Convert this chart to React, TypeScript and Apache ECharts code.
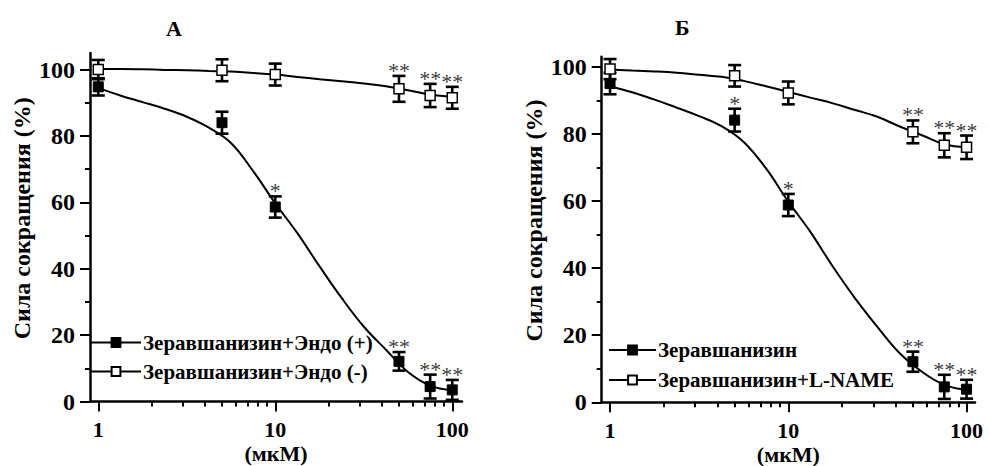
import React, { useEffect, useRef } from "react";
import * as echarts from "echarts";

// Concentrations (мкМ)
const conc = [1, 5, 10, 50, 75, 100];
const fitConc = [1, 1.33, 1.78, 2.37, 3.16, 4.22, 5.62, 7.5, 10, 13.3, 17.8, 23.7, 31.6, 42.2, 56.2, 75, 100];

// Panel А
const aPlusName = "Зеравшанизин+Эндо (+)";
const aPlusMean = [94.8, 84.0, 58.6, 12.1, 4.5, 3.5];
const aPlusErr = [2.6, 3.3, 3.2, 2.8, 3.6, 3.0];
const aPlusFit = [94.5, 92.2, 90.2, 88.2, 85.8, 82.5, 77.9, 69.4, 59.7, 50.8, 40.7, 31.2, 22.6, 15.6, 8.9, 4.8, 3.4];
const aPlusStars: [number, string][] = [[10, "*"], [50, "**"], [75, "**"], [100, "**"]];

const aMinusName = "Зеравшанизин+Эндо (-)";
const aMinusMean = [100.0, 99.8, 98.5, 94.2, 92.2, 91.5];
const aMinusErr = [2.9, 3.3, 3.3, 3.9, 3.5, 3.3];
const aMinusFit = [100.2, 100.2, 100.1, 99.9, 99.8, 99.6, 99.4, 99.0, 98.5, 97.8, 97.1, 96.5, 95.8, 95.0, 93.8, 92.5, 91.8];
const aMinusStars: [number, string][] = [[50, "**"], [75, "**"], [100, "**"]];

// Panel Б
const bPlusName = "Зеравшанизин";
const bPlusMean = [95.0, 84.1, 58.8, 12.1, 4.6, 3.9];
const bPlusErr = [3.2, 3.4, 3.3, 3.0, 3.6, 2.8];
const bPlusFit = [94.2, 92.4, 90.2, 87.8, 85.3, 82.3, 77.6, 69.7, 59.8, 50.8, 40.4, 31.0, 22.5, 14.6, 9.1, 5.2, 3.7];
const bPlusStars: [number, string][] = [[5, "*"], [10, "*"], [50, "**"], [75, "**"], [100, "**"]];

const bMinusName = "Зеравшанизин+L-NAME";
const bMinusMean = [99.3, 97.3, 92.2, 80.6, 76.6, 76.0];
const bMinusErr = [3.0, 3.2, 3.4, 3.4, 3.6, 3.5];
const bMinusFit = [99.2, 98.9, 98.6, 98.2, 97.6, 97.0, 95.8, 94.2, 92.5, 90.8, 89.1, 87.1, 85.1, 82.2, 79.6, 76.9, 76.0];
const bMinusStars: [number, string][] = [[50, "**"], [75, "**"], [100, "**"]];

// Axes
const xMajorTicks = [1, 10, 100];
const xMinorTicks = [2, 3, 4, 5, 6, 7, 8, 9, 20, 30, 40, 50, 60, 70, 80, 90];
const yMajorTicks = [0, 20, 40, 60, 80, 100];
const yMinorTicks = [10, 30, 50, 70, 90];
const xAxisName = "(мкМ)";
const yAxisName = "Сила сокращения (%)";

const FONT = "'Liberation Serif', 'Times New Roman', serif";
const BLACK = "#000";

type SeriesDef = {
  name: string;
  mean: number[];
  err: number[];
  fit: number[];
  filled: boolean;
  stars: [number, string][];
};

type PanelDef = {
  title: string;
  titlePos: { left: number; top: number };
  grid: { left: number; top: number; width: number; height: number };
  xMin: number;
  xMax: number;
  yMax: number;
  legend: { left: number; top: number; itemWidth: number; itemGap: number };
  defs: SeriesDef[];
};

const panels: PanelDef[] = [
  {
    title: "А",
    titlePos: { left: 166, top: 17 },
    grid: { left: 90, top: 53, width: 372, height: 348.5 },
    xMin: 0.898,
    xMax: 113.5,
    yMax: 105,
    legend: { left: 90, top: 332, itemWidth: 50, itemGap: 8 },
    defs: [
      { name: aPlusName, mean: aPlusMean, err: aPlusErr, fit: aPlusFit, filled: true, stars: aPlusStars },
      { name: aMinusName, mean: aMinusMean, err: aMinusErr, fit: aMinusFit, filled: false, stars: aMinusStars },
    ],
  },
  {
    title: "Б",
    titlePos: { left: 675, top: 16 },
    grid: { left: 601.7, top: 56.7, width: 373.3, height: 345.6 },
    xMin: 0.898,
    xMax: 111.5,
    yMax: 103,
    legend: { left: 608, top: 339.5, itemWidth: 47, itemGap: 9 },
    defs: [
      { name: bPlusName, mean: bPlusMean, err: bPlusErr, fit: bPlusFit, filled: true, stars: bPlusStars },
      { name: bMinusName, mean: bMinusMean, err: bMinusErr, fit: bMinusFit, filled: false, stars: bMinusStars },
    ],
  },
];

function buildOption() {
  const grids: any[] = [];
  const xAxes: any[] = [];
  const yAxes: any[] = [];
  const series: any[] = [];
  const legends: any[] = [];
  const titles: any[] = [];

  panels.forEach((p, pi) => {
    grids.push({ ...p.grid, containLabel: false, outerBoundsMode: "none" });
    // major x
    xAxes.push({
      type: "log",
      logBase: 10,
      gridIndex: pi,
      min: p.xMin,
      max: p.xMax,
      position: "bottom",
      axisLine: { show: true, onZero: false, lineStyle: { color: BLACK, width: 2.5 } },
      axisTick: { show: true, inside: false, length: 10, customValues: xMajorTicks, lineStyle: { color: BLACK, width: 2 } },
      axisLabel: {
        show: true,
        customValues: xMajorTicks,
        margin: 17,
        fontFamily: FONT,
        fontSize: 22,
        fontWeight: "bold",
        color: BLACK,
      },
      splitLine: { show: false },
      minorTick: { show: false },
      name: xAxisName,
      nameLocation: "middle",
      nameGap: 41,
      nameMoveOverlap: false,
      nameTextStyle: { fontFamily: FONT, fontSize: 22, fontWeight: "bold", color: BLACK },
    });
    // minor x
    xAxes.push({
      type: "log",
      logBase: 10,
      gridIndex: pi,
      min: p.xMin,
      max: p.xMax,
      position: "bottom",
      axisLine: { show: false, onZero: false },
      axisTick: { show: true, inside: false, length: 5, customValues: xMinorTicks, lineStyle: { color: BLACK, width: 2 } },
      axisLabel: { show: false },
      splitLine: { show: false },
    });
    // major y
    yAxes.push({
      type: "value",
      gridIndex: pi,
      min: 0,
      max: p.yMax,
      position: "left",
      axisLine: { show: true, onZero: false, lineStyle: { color: BLACK, width: 2.5 } },
      axisTick: { show: true, inside: false, length: 10, customValues: yMajorTicks, lineStyle: { color: BLACK, width: 2 } },
      axisLabel: {
        show: true,
        customValues: yMajorTicks,
        margin: 15,
        fontFamily: FONT,
        fontSize: 24,
        fontWeight: "bold",
        color: BLACK,
      },
      splitLine: { show: false },
      name: yAxisName,
      nameLocation: "middle",
      nameGap: 56,
      nameMoveOverlap: false,
      nameTextStyle: { fontFamily: FONT, fontSize: 24, fontWeight: "bold", color: BLACK, padding: [0, 0, 0, 18] },
    });
    // minor y
    yAxes.push({
      type: "value",
      gridIndex: pi,
      min: 0,
      max: p.yMax,
      position: "left",
      axisLine: { show: false, onZero: false },
      axisTick: { show: true, inside: false, length: 5, customValues: yMinorTicks, lineStyle: { color: BLACK, width: 2 } },
      axisLabel: { show: false },
      splitLine: { show: false },
    });

    const xi = pi * 2;
    const yi = pi * 2;

    p.defs.forEach((d) => {
      // fitted curve
      series.push({
        type: "line",
        xAxisIndex: xi,
        yAxisIndex: yi,
        data: fitConc.map((c, i) => [c, d.fit[i]]),
        smooth: 0.4,
        showSymbol: false,
        symbol: "none",
        lineStyle: { color: BLACK, width: 2 },
        z: 2,
        silent: true,
      });
      // error bars
      series.push({
        type: "custom",
        xAxisIndex: xi,
        yAxisIndex: yi,
        data: conc.map((c, i) => [c, d.mean[i], d.err[i]]),
        encode: { x: 0, y: 1 },
        z: 3,
        renderItem: (params: any, api: any) => {
          const x = api.value(0);
          const m = api.value(1);
          const e = api.value(2);
          const top = api.coord([x, m + e]);
          const bot = api.coord([x, Math.max(0, m - e)]);
          const hw = 6.5;
          const style = { stroke: BLACK, lineWidth: 2.6 };
          return {
            type: "group",
            children: [
              { type: "line", shape: { x1: top[0], y1: top[1], x2: bot[0], y2: bot[1] }, style },
              { type: "line", shape: { x1: top[0] - hw, y1: top[1], x2: top[0] + hw, y2: top[1] }, style },
              { type: "line", shape: { x1: bot[0] - hw, y1: bot[1], x2: bot[0] + hw, y2: bot[1] }, style },
            ],
          };
        },
      });
      // data points
      series.push({
        name: d.name,
        type: "line",
        xAxisIndex: xi,
        yAxisIndex: yi,
        data: conc.map((c, i) => [c, d.mean[i]]),
        symbol: "rect",
        symbolSize: 10,
        showSymbol: true,
        lineStyle: { opacity: 0, width: 0 },
        itemStyle: d.filled
          ? { color: BLACK, borderColor: BLACK, borderWidth: 1 }
          : { color: "#fff", borderColor: BLACK, borderWidth: 1.5 },
        z: 4,
      });
      // significance marks
      series.push({
        type: "scatter",
        xAxisIndex: xi,
        yAxisIndex: yi,
        data: d.stars.map(([x, mark]) => {
          const i = conc.indexOf(x);
          return [x, d.mean[i] + d.err[i], mark];
        }),
        symbolSize: 1,
        itemStyle: { color: "rgba(0,0,0,0)" },
        label: {
          show: true,
          position: "top",
          distance: -6,
          formatter: (pp: any) => pp.data[2],
          fontFamily: FONT,
          fontSize: 22,
          color: BLACK,
        },
        labelLayout: { hideOverlap: false },
        z: 5,
        silent: true,
      });
    });

    legends.push({
      orient: "vertical",
      left: p.legend.left,
      top: p.legend.top,
      padding: 0,
      itemWidth: p.legend.itemWidth,
      itemHeight: 11,
      itemGap: p.legend.itemGap,
      data: p.defs.map((d) => d.name),
      selectedMode: false,
      textStyle: { fontFamily: FONT, fontSize: 21, fontWeight: "bold", color: BLACK, padding: [0, 0, 0, -3] },
      lineStyle: { color: BLACK, width: 2, opacity: 1, type: "solid" },
    });

    titles.push({
      text: p.title,
      left: p.titlePos.left,
      top: p.titlePos.top,
      padding: 0,
      textStyle: { fontFamily: FONT, fontSize: 22, fontWeight: "bold", color: BLACK },
    });
  });

  return {
    animation: false,
    backgroundColor: "#fff",
    title: titles,
    grid: grids,
    xAxis: xAxes,
    yAxis: yAxes,
    legend: legends,
    series,
  };
}

export default function App() {
  const ref = useRef<HTMLDivElement>(null);
  useEffect(() => {
    if (!ref.current) return;
    const chart = echarts.init(ref.current, null, { renderer: "svg" });
    chart.setOption(buildOption() as any);
    return () => chart.dispose();
  }, []);
  return (
    <div
      ref={ref}
      style={{ position: "fixed", left: 0, top: 0, width: 989, height: 466, background: "#fff" }}
    />
  );
}
